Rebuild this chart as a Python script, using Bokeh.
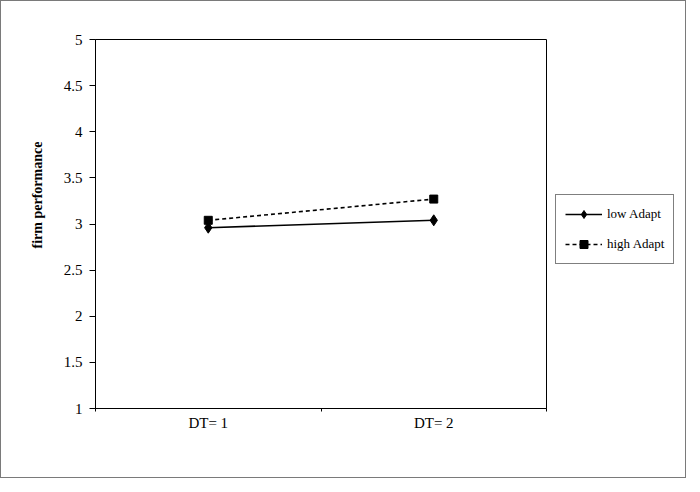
from bokeh.plotting import figure
from bokeh.layouts import row
from bokeh.models import (Range1d, FixedTicker, Legend, LegendItem, Title,
                          ColumnDataSource)
from bokeh.embed import file_html
from bokeh.resources import INLINE

categories = ["DT= 1", "DT= 2"]
low_adapt = [2.96, 3.04]
high_adapt = [3.04, 3.27]
y_ticks = [1, 1.5, 2, 2.5, 3, 3.5, 4, 4.5, 5]
y_label = "firm performance"
series_names = ["low Adapt", "high Adapt"]

xpos = [i + 0.5 for i in range(len(categories))]
FONT = "Liberation Serif"

p = figure(width=546, height=476, output_backend="svg",
           toolbar_location=None,
           x_range=Range1d(0, len(categories)), y_range=Range1d(1, 5),
           min_border_left=94, min_border_right=1, min_border_top=38,
           min_border_bottom=69)
p.background_fill_color = "white"
p.border_fill_color = "white"
p.outline_line_color = "black"
p.outline_line_width = 1
p.grid.visible = False

src = ColumnDataSource(dict(x=xpos, low=low_adapt, high=high_adapt))


def draw(fig):
    a = fig.line("x", "low", source=src, line_color="black", line_width=1.6)
    b = fig.scatter("x", "low", source=src, marker="diamond", size=11,
                    fill_color="black", line_color="black")
    c = fig.line("x", "high", source=src, line_color="black", line_width=1.6,
                 line_dash="4 3")
    d = fig.scatter("x", "high", source=src, marker="square", size=8,
                    fill_color="black", line_color="black")
    return a, b, c, d


draw(p)

# x axis
xa = p.xaxis[0]
xa.ticker = FixedTicker(ticks=xpos, minor_ticks=[i for i in range(len(categories) + 1)])
xa.major_label_overrides = {x: c for x, c in zip(xpos, categories)}
xa.major_tick_out = 0
xa.major_tick_in = 0
xa.minor_tick_out = 3
xa.minor_tick_in = 0
xa.axis_line_color = "black"
xa.major_label_text_font = FONT
xa.major_label_text_font_size = "15px"
xa.major_label_text_color = "black"
xa.major_label_standoff = 3

# y axis
ya = p.yaxis[0]
ya.ticker = FixedTicker(ticks=y_ticks, minor_ticks=[])
ya.major_label_overrides = {t: ("%g" % t) for t in y_ticks}
ya.major_tick_out = 6
ya.major_tick_in = 0
ya.major_tick_line_color = "black"
ya.axis_line_color = "black"
ya.major_label_text_font = FONT
ya.major_label_text_font_size = "15px"
ya.major_label_text_color = "black"
ya.major_label_standoff = 7

ttl = Title(text=y_label, align="left", offset=160, standoff=32,
            text_font=FONT, text_font_size="14px",
            text_font_style="bold", text_color="black")
p.add_layout(ttl, "left")

# legend panel: same series drawn outside its visible range, legend only
q = figure(width=138, height=476, output_backend="svg", toolbar_location=None,
           x_range=Range1d(100, 101), y_range=Range1d(100, 101),
           x_axis_location=None, y_axis_location=None,
           min_border_left=0, min_border_right=0, min_border_top=0,
           min_border_bottom=0)
q.outline_line_color = None
q.grid.visible = False
q.background_fill_color = "white"
q.border_fill_color = "white"
ql1, qm1, ql2, qm2 = draw(q)

legend = Legend(items=[LegendItem(label=series_names[0], renderers=[ql1, qm1]),
                       LegendItem(label=series_names[1], renderers=[ql2, qm2])],
                location=(8, 144))
legend.label_text_font = FONT
legend.label_text_font_size = "13px"
legend.label_text_color = "black"
legend.border_line_color = "black"
legend.border_line_width = 1
legend.glyph_width = 37
legend.glyph_height = 20
legend.spacing = 10
legend.padding = 9
legend.margin = 0
legend.label_standoff = 5
legend.background_fill_alpha = 1
q.add_layout(legend)

layout = row(p, q, spacing=0)
layout.styles = {"border": "1px solid #7a7a7a"}

open("out.html", "w").write(file_html(layout, INLINE))
